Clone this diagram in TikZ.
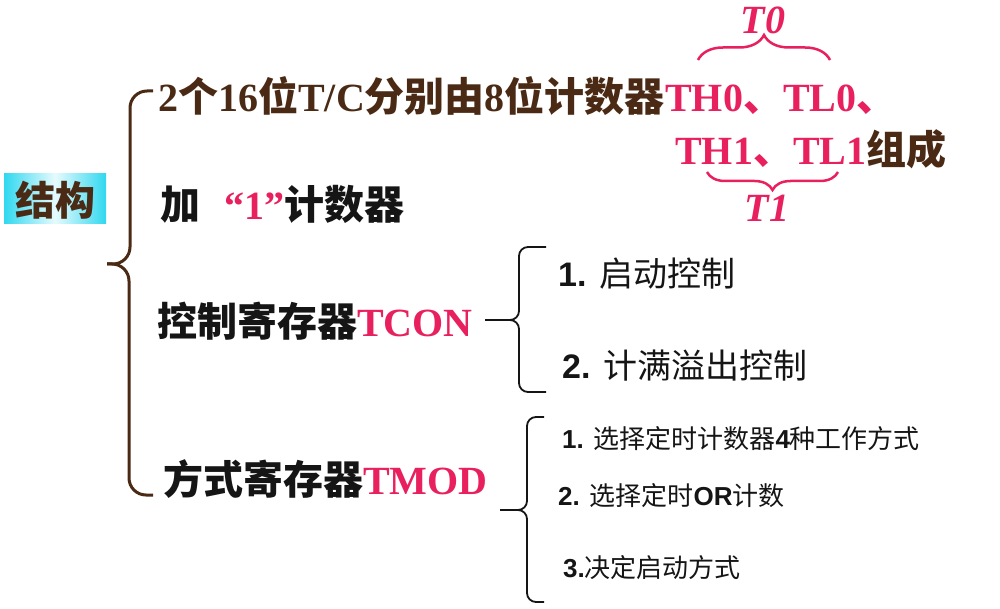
\documentclass[tikz,border=0pt]{standalone}
\usepackage{fontspec}
\setmainfont{Liberation Serif}
\setsansfont{Liberation Sans}
\newfontfamily\hei{Noto Sans CJK SC}
\usetikzlibrary{positioning,decorations.pathreplacing}

\definecolor{brn}{HTML}{4A2A14}
\definecolor{pnk}{HTML}{E8205E}
\definecolor{glow}{HTML}{30D8F0}
\definecolor{ink}{HTML}{151515}

\newcommand{\se}{\rmfamily}
\newcommand{\ar}{\sffamily\bfseries}
\newcommand{\zh}{\hei\mdseries}

\begin{document}
\begin{tikzpicture}[x=1pt,y=-1pt,
  txt/.style={inner sep=0pt,anchor=base west},
  big/.style={font=\fontsize{40}{40}\selectfont\bfseries},
  mid/.style={font=\fontsize{34}{34}\selectfont},
  sml/.style={font=\fontsize{26}{26}\selectfont},
  curly/.style={decorate,decoration={brace,amplitude=#1}},
  tlab/.style={inner sep=0pt,text=pnk,font=\fontsize{40}{40}\selectfont\bfseries\itshape}]
  \useasboundingbox (0,0) rectangle (1000,609);

  % root
  \shade[left color=glow,right color=glow,middle color=glow!12] (4,174) rectangle (106,224);
  \node[big,inner sep=0pt,text=brn] (root) at (55,200) {\hei 结构};

  % first branch
  \node[txt,big,text=brn] (tc) at (158,112) {\se 2\hei 个\se 16\hei 位\se T/C\hei 分别由\se 8\hei 位计数器};
  \node[txt,big,text=pnk] (th0) at (tc.base east) {\se TH0\hei 、\se TL0\hei 、};
  \node[txt,big,text=pnk] (th1) at (675,165) {\se TH1\hei 、\se TL1};
  \node[txt,big,text=brn] (zc) at (th1.base east) {\hei 组成};
  \coordinate (a0) at (698,60);
  \coordinate (b0) at (830,60);
  \coordinate (a1) at (707,172);
  \coordinate (b1) at (838,172);
  \draw[pnk,line width=2.5pt,curly=25pt] (a0) -- (b0);
  \draw[pnk,line width=2.5pt,curly=18pt] (b1) -- (a1);
  \node[tlab] (t0) at (763,20) {T0};
  \node[tlab] (t1) at (767,208) {T1};

  % second branch
  \node[txt,big,text=ink] (add) at (160,220) {\hei 加\hspace{24pt}\textcolor{pnk}{\se “1”}计数器};

  % third branch
  \node[txt,big,text=ink] (tcon) at (157,336) {\hei 控制寄存器\textcolor{pnk}{\se TCON}};
  \node[txt,mid,text=ink] (c1) at (558,287) {\ar 1. \zh 启动控制};
  \node[txt,mid,text=ink] (c2) at (562,378) {\ar 2. \zh 计满溢出控制};

  % fourth branch
  \node[txt,big,text=ink] (tmod) at (163,494) {\hei 方式寄存器\textcolor{pnk}{\se TMOD}};
  \node[txt,sml,text=ink] (m1) at (562,448) {\ar 1. \zh 选择定时计数器\ar 4\zh 种工作方式};
  \node[txt,sml,text=ink] (m2) at (558,505) {\ar 2. \zh 选择定时\ar OR\zh 计数};
  \node[txt,sml,text=ink] (m3) at (563,577) {\ar 3.\zh 决定启动方式};

  % braces
  \coordinate (rtip) at (107,264);
  \coordinate (ctip) at (485,320);
  \coordinate (dtip) at (500,510);
  \draw[brn,line width=3pt,rounded corners=17pt] (153,91) -- (130,91) -- (130,264) -- (rtip);
  \draw[brn,line width=3pt,rounded corners=17pt] (153,495) -- (129,495) -- (129,264) -- (rtip);
  \draw[ink,line width=1.8pt,rounded corners=9pt] (546,247) -- (519,247) -- (519,320) -- (ctip);
  \draw[ink,line width=1.8pt,rounded corners=9pt] (546,392) -- (519,392) -- (519,320) -- (ctip);
  \draw[ink,line width=1.8pt,rounded corners=9pt] (544,417) -- (527,417) -- (527,510) -- (dtip);
  \draw[ink,line width=1.8pt,rounded corners=9pt] (544,602) -- (527,602) -- (527,510) -- (dtip);
\end{tikzpicture}
\end{document}
